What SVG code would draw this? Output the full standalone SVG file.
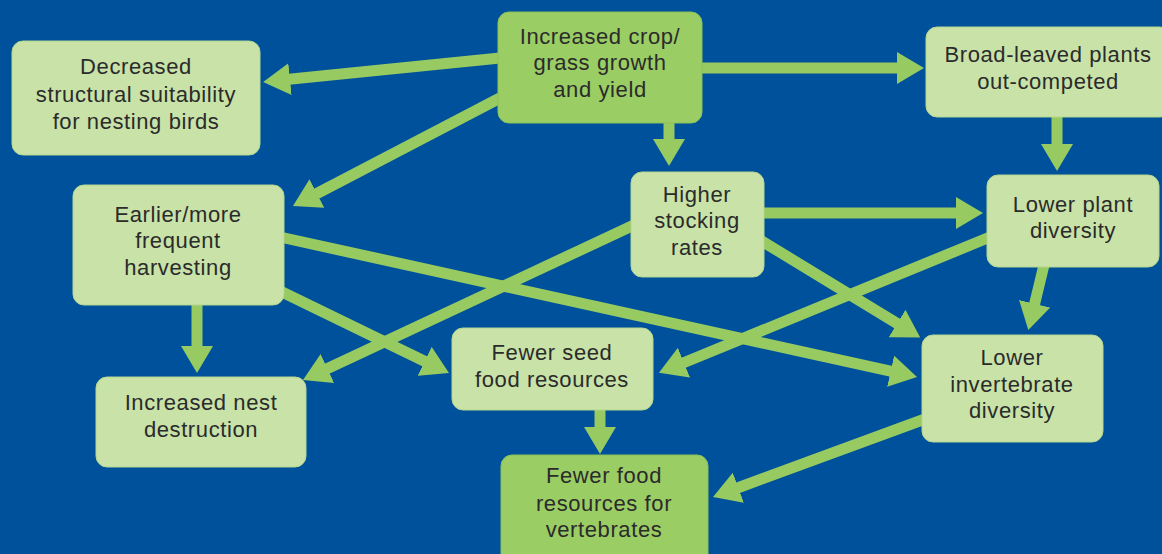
<svg xmlns="http://www.w3.org/2000/svg" width="1162" height="554" viewBox="0 0 1162 554">
<style>
.bg{fill:#00519B}
.dark{fill:#9BCD65;stroke:#8cc257;stroke-width:1}
.light{fill:#C8E2A8;stroke:#b4d68e;stroke-width:1}
.lbl{font-family:"Liberation Sans",Arial,sans-serif;font-size:22px;fill:#2b2b2b;text-anchor:middle;letter-spacing:0.6px}
.conn line{stroke:#97CA61;stroke-width:11;marker-end:url(#ah)}
</style>
<defs>
<marker id="ah" markerUnits="userSpaceOnUse" viewBox="0 -16 27 32" markerWidth="27" markerHeight="32" refX="1" refY="0" orient="auto">
<path d="M0,-16 L27,0 L0,16 z" fill="#97CA61"/>
</marker>
</defs>
<rect class="bg" x="0" y="0" width="1162" height="554"/>
<g id="connectors" class="conn">
<line x1="500" y1="58" x2="289" y2="79.3"/>
<line x1="500" y1="98" x2="316" y2="194"/>
<line x1="669" y1="120" x2="669" y2="140"/>
<line x1="700" y1="68" x2="898" y2="68"/>
<line x1="1057" y1="115" x2="1057" y2="145"/>
<line x1="760" y1="213" x2="957" y2="213"/>
<line x1="1044" y1="265" x2="1034.4" y2="304.8"/>
<line x1="990" y1="237" x2="683" y2="363"/>
<line x1="760" y1="240" x2="898" y2="324"/>
<line x1="634" y1="225" x2="326.5" y2="369"/>
<line x1="280" y1="237" x2="891.6" y2="371.4"/>
<line x1="280" y1="291" x2="425.6" y2="361.7"/>
<line x1="197" y1="303" x2="197" y2="347"/>
<line x1="600" y1="408" x2="600" y2="428"/>
<line x1="925" y1="419" x2="737.4" y2="488"/>
</g>
<g id="n-decreased">
<rect class="light" x="12" y="41" width="248" height="114" rx="11"/>
<text class="lbl" x="136" y="74">Decreased</text>
<text class="lbl" x="136" y="102">structural suitability</text>
<text class="lbl" x="136" y="129">for nesting birds</text>
</g>
<g id="n-earlier">
<rect class="light" x="73" y="185" width="211" height="120" rx="11"/>
<text class="lbl" x="178" y="222">Earlier/more</text>
<text class="lbl" x="178" y="248">frequent</text>
<text class="lbl" x="178" y="275">harvesting</text>
</g>
<g id="n-increased-crop">
<rect class="dark" x="498" y="12" width="204" height="111" rx="11"/>
<text class="lbl" x="600" y="44">Increased crop/</text>
<text class="lbl" x="600" y="70">grass growth</text>
<text class="lbl" x="600" y="97">and yield</text>
</g>
<g id="n-broad">
<rect class="light" x="926" y="27" width="245" height="90" rx="11"/>
<text class="lbl" x="1048" y="62">Broad-leaved plants</text>
<text class="lbl" x="1048" y="89">out-competed</text>
</g>
<g id="n-plant">
<rect class="light" x="987" y="175" width="172" height="92" rx="11"/>
<text class="lbl" x="1073" y="212">Lower plant</text>
<text class="lbl" x="1073" y="238">diversity</text>
</g>
<g id="n-invert">
<rect class="light" x="922" y="335" width="181" height="107" rx="11"/>
<text class="lbl" x="1012" y="365">Lower</text>
<text class="lbl" x="1012" y="392">invertebrate</text>
<text class="lbl" x="1012" y="418">diversity</text>
</g>
<g id="n-stocking">
<rect class="light" x="631" y="172" width="133" height="105" rx="11"/>
<text class="lbl" x="697" y="202">Higher</text>
<text class="lbl" x="697" y="228">stocking</text>
<text class="lbl" x="697" y="255">rates</text>
</g>
<g id="n-seed">
<rect class="light" x="452" y="328" width="201" height="82" rx="11"/>
<text class="lbl" x="552" y="360">Fewer seed</text>
<text class="lbl" x="552" y="387">food resources</text>
</g>
<g id="n-vertebrates">
<rect class="dark" x="501" y="455" width="207" height="110" rx="11"/>
<text class="lbl" x="604" y="483">Fewer food</text>
<text class="lbl" x="604" y="511">resources for</text>
<text class="lbl" x="604" y="537">vertebrates</text>
</g>
<g id="n-nest">
<rect class="light" x="96" y="377" width="210" height="90" rx="11"/>
<text class="lbl" x="201" y="410">Increased nest</text>
<text class="lbl" x="201" y="437">destruction</text>
</g>
</svg>
